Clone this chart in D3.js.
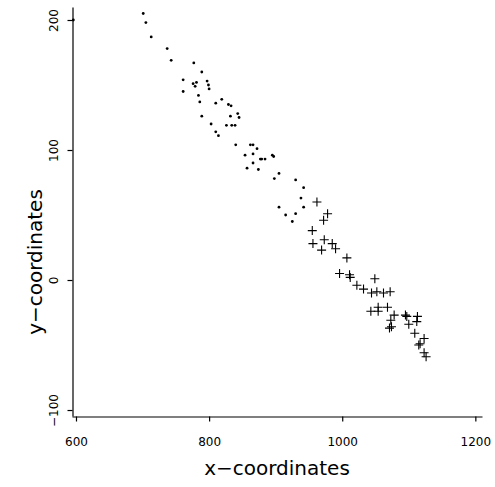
<!DOCTYPE html>
<html>
<head>
<meta charset="utf-8">
<script src="https://cdn.jsdelivr.net/npm/d3@7"></script>
<style>
  body { margin: 0; background: #fff; }
  text { font-family: "DejaVu Sans", sans-serif; fill: #000; }
</style>
</head>
<body>
<div id="chart"></div>
<script>
// first group (drawn as dots)
const dotX = [596, 701, 705, 713, 737, 743, 777, 789, 761, 776, 781, 779, 797, 799, 800, 761,
  784, 786, 810, 819, 829, 833, 832, 843, 845, 789, 803, 826, 834, 839, 810, 814,
  840, 862, 866, 872, 854, 866, 877, 879, 884, 895, 897, 866, 857, 874, 905, 898,
  930, 942, 938, 942, 905, 915, 930, 925];
const dotY = [200, 205, 198, 187, 178, 169, 167, 160, 154, 151, 152, 149, 153, 150, 147, 145,
  142, 137, 136, 139, 135, 134, 126, 128, 125, 126, 120, 119, 119, 119, 114, 111,
  104, 104, 104, 101, 96, 97, 93, 93, 93, 96, 95, 90, 86, 85, 82, 78,
  77, 71, 63, 56, 56, 50, 51, 45];

// second group (drawn as crosses)
const crossX = [962, 978, 972, 955, 956, 973, 969, 985, 990, 1007, 996, 1011, 1012, 1049, 1022, 1032,
  1044, 1052, 1062, 1072, 1043, 1054, 1054, 1068, 1078, 1073, 1095, 1097, 1113, 1112, 1100, 1074,
  1071, 1109, 1123, 1117, 1115, 1123, 1126];
const crossY = [60, 51, 46, 38, 28, 31, 23, 28, 24, 17, 5, 4, 2, 1, -4, -7,
  -10, -9, -10, -9, -24, -24, -21, -21, -27, -31, -27, -28, -28, -32, -34, -36,
  -37, -41, -45, -49, -50, -56, -59];

const xTicks = [600, 800, 1000, 1200];
const yTicks = [-100, 0, 100, 200];

var width = 495;
var height = 487;

var svg = d3.select('#chart')
  .append('svg')
  .attr('width', width)
  .attr('height', height);

// axis extents in data units (R style, a little wider than the ticks)
var xscale = d3.scaleLinear().domain([594, 1210]).range([72, 482]);
var yscale = d3.scaleLinear().domain([-104.6, 210]).range([416, 7]);

var xaxis = d3.axisBottom(xscale).tickValues(xTicks).tickFormat(d3.format('d'))
  .tickSize(5).tickSizeOuter(0).tickPadding(16);
var yaxis = d3.axisLeft(yscale).tickValues(yTicks).tickFormat(d3.format('d'))
  .tickSize(5).tickSizeOuter(0);

var gx = svg.append('g')
  .attr('transform', 'translate(0,416.5)')
  .call(xaxis);
gx.selectAll('text').style('font-size', '12px').style('font-family', '"DejaVu Sans", sans-serif');

var gy = svg.append('g')
  .attr('transform', 'translate(72.5,0)')
  .call(yaxis);
gy.selectAll('text')
  .style('font-size', '12px')
  .style('font-family', '"DejaVu Sans", sans-serif')
  .attr('text-anchor', 'middle')
  .attr('x', 0)
  .attr('y', -15)
  .attr('dy', 0)
  .attr('transform', 'rotate(-90)');

svg.selectAll('.domain, .tick line').attr('stroke', '#000').attr('stroke-width', 1.2);

// dots
svg.append('g')
  .selectAll('circle')
  .data(dotX.map((x, i) => [x, dotY[i]]))
  .join('circle')
  .attr('cx', d => xscale(d[0]))
  .attr('cy', d => yscale(d[1]))
  .attr('r', 1.4)
  .attr('fill', '#000');

// crosses
svg.append('g')
  .selectAll('path')
  .data(crossX.map((x, i) => [x, crossY[i]]))
  .join('path')
  .attr('d', d => {
    var cx = xscale(d[0]), cy = yscale(d[1]);
    return `M${cx - 4.5},${cy}H${cx + 4.5}M${cx},${cy - 4.5}V${cy + 4.5}`;
  })
  .attr('stroke', '#000')
  .attr('stroke-width', 1.1)
  .attr('fill', 'none');

// axis titles
svg.append('text')
  .attr('x', 277)
  .attr('y', 475)
  .attr('text-anchor', 'middle')
  .style('font-size', '20px')
  .text('x\u2212coordinates');

svg.append('text')
  .attr('transform', 'translate(42,262) rotate(-90)')
  .attr('text-anchor', 'middle')
  .style('font-size', '20px')
  .text('y\u2212coordinates');
</script>
</body>
</html>
